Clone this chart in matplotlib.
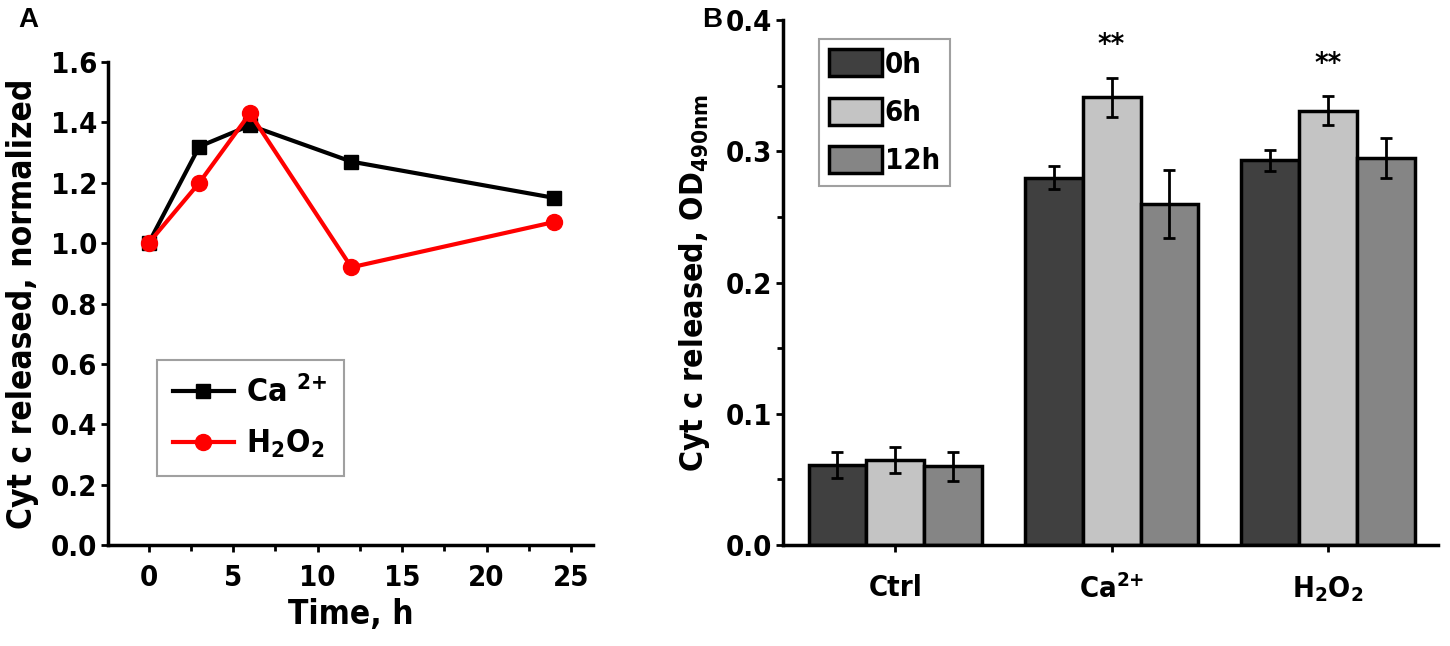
import numpy as np
import matplotlib
matplotlib.use("Agg")
import matplotlib.pyplot as plt

plt.rcParams['font.family'] = ['DejaVu Sans']
plt.rcParams['font.stretch'] = 'condensed'
plt.rcParams['font.weight'] = 'bold'
plt.rcParams['axes.labelweight'] = 'bold'
plt.rcParams['mathtext.fontset'] = 'custom'
plt.rcParams['mathtext.rm'] = 'DejaVu Sans:bold:stretch=condensed'
plt.rcParams['mathtext.it'] = 'DejaVu Sans:bold:stretch=condensed'
plt.rcParams['mathtext.bf'] = 'DejaVu Sans:bold:stretch=condensed'
plt.rcParams['mathtext.default'] = 'rm'

# panel A data
time_h = [0, 3, 6, 12, 24]
ca_norm = [1.0, 1.32, 1.39, 1.27, 1.15]
h2o2_norm = [1.0, 1.20, 1.43, 0.92, 1.07]

# panel B data
groups = ['Ctrl', 'Ca$^{2{+}}$', 'H$_2$O$_2$']
times = ['0h', '6h', '12h']
od_0h = [0.061, 0.280, 0.293]
od_6h = [0.065, 0.341, 0.331]
od_12h = [0.060, 0.260, 0.295]
err_0h = [0.010, 0.009, 0.008]
err_6h = [0.010, 0.015, 0.011]
err_12h = [0.011, 0.026, 0.015]
bar_colors = ['#404040', '#c4c4c4', '#858585']

fig = plt.figure(figsize=(14.5, 6.46), dpi=100)

# ---- A ----
ax1 = fig.add_axes([0.0745, 0.1563, 0.3345, 0.7477])
ax1.plot(time_h, ca_norm, color='black', lw=3, marker='s', ms=10, label='Ca $^{2{+}}$')
ax1.plot(time_h, h2o2_norm, color='#ff0000', lw=3, marker='o', ms=11.5, label='H$_2$O$_2$')
ax1.set_xlim(-2.4, 26.3)
ax1.set_ylim(0, 1.6)
ax1.set_xticks([0, 5, 10, 15, 20, 25])
ax1.set_xticks([2.5, 7.5, 12.5, 17.5, 22.5], minor=True)
ax1.set_yticks(np.arange(0, 1.61, 0.2))
ax1.set_yticklabels(['%.1f' % v for v in np.arange(0, 1.61, 0.2)])
ax1.set_xlabel('Time, h', fontsize=24, labelpad=4)
ax1.set_ylabel('Cyt c released, normalized', fontsize=24, labelpad=8)
leg1 = ax1.legend(loc='upper left', bbox_to_anchor=(0.101, 0.383), borderaxespad=0,
                  fontsize=23, frameon=True, fancybox=False, edgecolor='#888888',
                  handlelength=1.9, handletextpad=0.4, borderpad=0.5, labelspacing=0.6)
leg1.get_frame().set_linewidth(1.5)
fig.text(28 / 1450, 1 - 20 / 646, 'A', fontsize=20, fontweight='bold', family='Liberation Sans',
         stretch='normal', ha='center', va='center')

# ---- B ----
ax2 = fig.add_axes([0.540, 0.1563, 0.4517, 0.8127])
x = np.arange(len(groups))
w = 0.268
for i, (vals, errs) in enumerate([(od_0h, err_0h), (od_6h, err_6h), (od_12h, err_12h)]):
    ax2.bar(x + (i - 1) * w, vals, w, color=bar_colors[i], edgecolor='black', lw=2.5,
            yerr=errs, capsize=4, error_kw=dict(elinewidth=2, capthick=2, ecolor='black'),
            label=times[i], zorder=2)
for gi in [1, 2]:
    top = od_6h[gi] + err_6h[gi]
    ax2.text(x[gi], top + 0.014, '**', ha='center', va='bottom', fontsize=21)
ax2.set_xlim(-0.52, 2.51)
ax2.set_ylim(0, 0.4)
ax2.set_xticks(x)
ax2.set_xticklabels(groups)
ax2.set_yticks([0, 0.1, 0.2, 0.3, 0.4])
ax2.set_yticks([0.05, 0.15, 0.25, 0.35], minor=True)
ax2.set_yticklabels(['0.0', '0.1', '0.2', '0.3', '0.4'])
ax2.set_ylabel('Cyt c released, OD$_{490nm}$', fontsize=23, labelpad=10)
leg2 = ax2.legend(loc='upper left', bbox_to_anchor=(0.055, 0.964), borderaxespad=0,
                  fontsize=21, frameon=True, fancybox=False, edgecolor='#888888',
                  handlelength=1.8, handleheight=1.05, handletextpad=0.1, borderpad=0.35,
                  labelspacing=0.65)
leg2.get_frame().set_linewidth(1.5)
fig.text(712 / 1450, 1 - 20 / 646, 'B', fontsize=20, fontweight='bold', family='Liberation Sans',
         stretch='normal', ha='center', va='center')

for ax in (ax1, ax2):
    ax.spines['top'].set_visible(False)
    ax.spines['right'].set_visible(False)
    ax.spines['left'].set_linewidth(2.5)
    ax.spines['bottom'].set_linewidth(2.5)
    ax.tick_params(axis='both', which='major', labelsize=21, width=2, length=5, pad=3)
    ax.tick_params(axis='both', which='minor', width=2, length=4)
ax2.tick_params(axis='x', which='major', labelsize=21, pad=16)
ax1.tick_params(axis='x', which='major', pad=9)

fig.savefig('out.png', dpi=100)
